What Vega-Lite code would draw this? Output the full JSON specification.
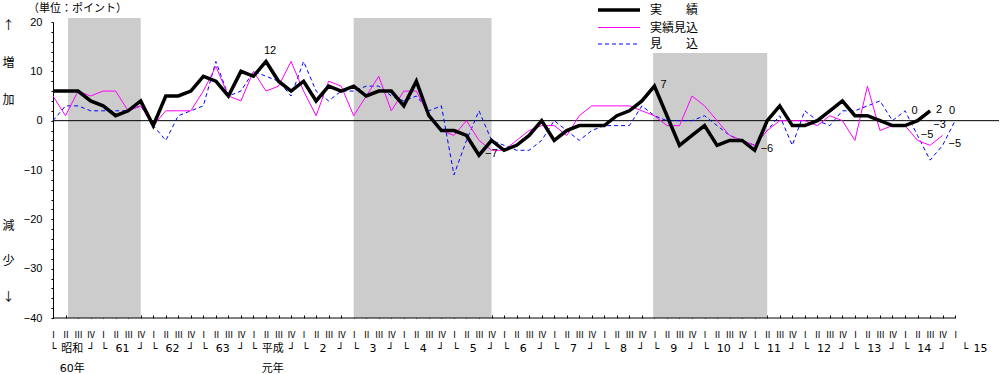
{
  "$schema": "https://vega.github.io/schema/vega-lite/v6.json",
  "width": 946,
  "height": 296,
  "autosize": {"type": "none"},
  "padding": {"left": 53, "top": 22, "right": 1, "bottom": 56},
  "background": "white",
  "config": {"view": {"stroke": null}, "font": "Noto Sans CJK JP"},
  "title": {"text": "（単位：ポイント）", "anchor": "start", "frame": "group", "fontSize": 11, "fontWeight": "normal", "font": "Noto Sans CJK JP", "color": "black", "dx": -25, "dy": 21, "offset": 11},
  "data": {"values": [
    {"q":0,"実績":6,"実績見込":5,"見込":0},
    {"q":1,"実績":6,"実績見込":1,"見込":3},
    {"q":2,"実績":6,"実績見込":6,"見込":3},
    {"q":3,"実績":4,"実績見込":5,"見込":2},
    {"q":4,"実績":3,"実績見込":6,"見込":2},
    {"q":5,"実績":1,"実績見込":6,"見込":2},
    {"q":6,"実績":2,"実績見込":2,"見込":2},
    {"q":7,"実績":4,"実績見込":3,"見込":3},
    {"q":8,"実績":-1,"実績見込":-1,"見込":-1},
    {"q":9,"実績":5,"実績見込":2,"見込":-4},
    {"q":10,"実績":5,"実績見込":2,"見込":1},
    {"q":11,"実績":6,"実績見込":2,"見込":2},
    {"q":12,"実績":9,"実績見込":6,"見込":3},
    {"q":13,"実績":8,"実績見込":11,"見込":12},
    {"q":14,"実績":5,"実績見込":5,"見込":5},
    {"q":15,"実績":10,"実績見込":4,"見込":6},
    {"q":16,"実績":9,"実績見込":10,"見込":10},
    {"q":17,"実績":12,"実績見込":6,"見込":9},
    {"q":18,"実績":8,"実績見込":7,"見込":8},
    {"q":19,"実績":6,"実績見込":12,"見込":5},
    {"q":20,"実績":8,"実績見込":6,"見込":12},
    {"q":21,"実績":4,"実績見込":1,"見込":6},
    {"q":22,"実績":7,"実績見込":8,"見込":4},
    {"q":23,"実績":6,"実績見込":7,"見込":6},
    {"q":24,"実績":7,"実績見込":1,"見込":6},
    {"q":25,"実績":5,"実績見込":5,"見込":7},
    {"q":26,"実績":6,"実績見込":9,"見込":7},
    {"q":27,"実績":6,"実績見込":2,"見込":5},
    {"q":28,"実績":3,"実績見込":6,"見込":4},
    {"q":29,"実績":8,"実績見込":6,"見込":5},
    {"q":30,"実績":1,"実績見込":1,"見込":2},
    {"q":31,"実績":-2,"実績見込":-2,"見込":3},
    {"q":32,"実績":-2,"実績見込":-3,"見込":-11},
    {"q":33,"実績":-3,"実績見込":0,"見込":-4},
    {"q":34,"実績":-7,"実績見込":-4,"見込":2},
    {"q":35,"実績":-4,"実績見込":-6,"見込":-4},
    {"q":36,"実績":-6,"実績見込":-6,"見込":-5},
    {"q":37,"実績":-5,"実績見込":-4,"見込":-6},
    {"q":38,"実績":-3,"実績見込":-2,"見込":-6},
    {"q":39,"実績":0,"実績見込":-1,"見込":-4},
    {"q":40,"実績":-4,"実績見込":-1,"見込":0},
    {"q":41,"実績":-2,"実績見込":-3,"見込":-2},
    {"q":42,"実績":-1,"実績見込":1,"見込":-4},
    {"q":43,"実績":-1,"実績見込":3,"見込":-2},
    {"q":44,"実績":-1,"実績見込":3,"見込":-1},
    {"q":45,"実績":1,"実績見込":3,"見込":-1},
    {"q":46,"実績":2,"実績見込":3,"見込":-1},
    {"q":47,"実績":4,"実績見込":2,"見込":3},
    {"q":48,"実績":7,"実績見込":1,"見込":1},
    {"q":49,"実績":1,"実績見込":-1,"見込":0},
    {"q":50,"実績":-5,"実績見込":-1,"見込":0},
    {"q":51,"実績":-3,"実績見込":5,"見込":0},
    {"q":52,"実績":-1,"実績見込":3,"見込":1},
    {"q":53,"実績":-5,"実績見込":0,"見込":-1},
    {"q":54,"実績":-4,"実績見込":-3,"見込":-3},
    {"q":55,"実績":-4,"実績見込":-4,"見込":-4},
    {"q":56,"実績":-6,"実績見込":-5,"見込":-5},
    {"q":57,"実績":0,"実績見込":-2,"見込":-2},
    {"q":58,"実績":3,"実績見込":0,"見込":1},
    {"q":59,"実績":-1,"実績見込":0,"見込":-5},
    {"q":60,"実績":-1,"実績見込":0,"見込":2},
    {"q":61,"実績":0,"実績見込":-1,"見込":0},
    {"q":62,"実績":2,"実績見込":1,"見込":-1},
    {"q":63,"実績":4,"実績見込":0,"見込":2},
    {"q":64,"実績":1,"実績見込":-4,"見込":2},
    {"q":65,"実績":1,"実績見込":7,"見込":3},
    {"q":66,"実績":0,"実績見込":-2,"見込":4},
    {"q":67,"実績":-1,"実績見込":-1,"見込":0},
    {"q":68,"実績":-1,"実績見込":-1,"見込":2},
    {"q":69,"実績":0,"実績見込":-4,"見込":-3},
    {"q":70,"実績":2,"実績見込":-5,"見込":-8},
    {"q":71,"実績見込":-3,"見込":-5},
    {"q":72,"見込":0}
  ]},
  "transform": [
    {"fold": ["実績", "実績見込", "見込"], "as": ["s", "v"]},
    {"filter": "isValid(datum.v)"}
  ],
  "resolve": {"axis": {"x": "independent", "y": "independent"}},
  "layer": [
    {
      "data": {"values": [{"a": 1.2, "b": 7, "t": 20.8}, {"a": 24, "b": 35, "t": 20.8}, {"a": 47.9, "b": 57, "t": 13.7}]},
      "mark": {"type": "rect", "fill": "#cccccc"},
      "encoding": {
        "x": {"field": "a", "type": "quantitative", "scale": {"domain": [0, 75.5], "nice": false, "zero": false},
              "axis": {"orient": "bottom", "values": [0,1,2,3,4,5,6,7,8,9,10,11,12,13,14,15,16,17,18,19,20,21,22,23,24,25,26,27,28,29,30,31,32,33,34,35,36,37,38,39,40,41,42,43,44,45,46,47,48,49,50,51,52,53,54,55,56,57,58,59,60,61,62,63,64,65,66,67,68,69,70,71,72],
                       "labels": false, "domain": false, "grid": false, "tickSize": -3, "tickColor": "black", "title": null}},
        "x2": {"field": "b"},
        "y": {"field": "t", "type": "quantitative", "scale": {"domain": [-40, 20], "nice": false, "zero": false},
              "axis": {"orient": "left", "values": [-40,-38,-36,-34,-32,-30,-28,-26,-24,-22,-20,-18,-16,-14,-12,-10,-8,-6,-4,-2,0,2,4,6,8,10,12,14,16,18,20],
                       "labelExpr": "datum.value % 10 === 0 ? datum.label : ''",
                       "tickSize": 2, "tickColor": "black", "domainColor": "black", "labelPadding": 9, "grid": false,
                       "labelFont": "Liberation Sans", "labelFontSize": 11, "labelColor": "black", "labelOverlap": false, "labelFlush": false,
                       "title": ["↑", "増", "加"],
                       "titleAngle": 0, "titleX": -45, "titleY": -2, "titleAlign": "center", "titleBaseline": "top",
                       "titleFont": "Noto Sans CJK JP", "titleFontSize": 12, "titleFontWeight": "normal", "titleLineHeight": 37, "titleColor": "black"}},
        "y2": {"datum": -40}
      }
    },
    {
      "data": {"values": [{}]},
      "mark": {"type": "rule", "color": "black", "strokeWidth": 1},
      "encoding": {"y": {"datum": 0, "type": "quantitative", "axis": null}}
    },
    {
      "data": {"values": [{}]},
      "mark": {"type": "rule", "color": "black", "strokeWidth": 1},
      "encoding": {
        "x": {"datum": 0, "type": "quantitative", "axis": null},
        "x2": {"datum": 72},
        "y": {"datum": -40, "type": "quantitative", "axis": null}
      }
    },
    {
      "transform": [{"filter": "datum.s === '見込'"}],
      "mark": {"type": "line", "strokeWidth": 1, "strokeDash": [4, 3]},
      "encoding": {
        "x": {"field": "q", "type": "quantitative",
              "axis": {"orient": "bottom", "values": [0,1,2,3,4,5,6,7,8,9,10,11,12,13,14,15,16,17,18,19,20,21,22,23,24,25,26,27,28,29,30,31,32,33,34,35,36,37,38,39,40,41,42,43,44,45,46,47,48,49,50,51,52,53,54,55,56,57,58,59,60,61,62,63,64,65,66,67,68,69,70,71,72],
                       "labelExpr": "['Ⅰ','Ⅱ','Ⅲ','Ⅳ'][datum.value % 4]", "ticks": false, "domain": false, "grid": false,
                       "labelPadding": 12, "labelFont": "Noto Sans CJK JP", "labelFontSize": 9, "labelColor": "black",
                       "labelOverlap": false, "labelFlush": false, "labelBound": false, "labelBaseline": "top", "title": null}},
        "y": {"field": "v", "type": "quantitative",
              "axis": {"orient": "left", "domain": false, "ticks": false, "labels": false, "grid": false,
                       "title": ["減", "少", "↓"],
                       "titleAngle": 0, "titleX": -45, "titleY": 198, "titleAlign": "center", "titleBaseline": "top",
                       "titleFont": "Noto Sans CJK JP", "titleFontSize": 12, "titleFontWeight": "normal", "titleLineHeight": 35.5, "titleColor": "black"}},
        "color": {"field": "s", "type": "nominal", "scale": {"domain": ["実績", "実績見込", "見込"], "range": ["#000000", "#ff00ff", "#0000ff"]}}
      }
    },
    {
      "transform": [{"filter": "datum.s === '実績見込'"}],
      "mark": {"type": "line", "strokeWidth": 1},
      "encoding": {
        "x": {"field": "q", "type": "quantitative",
              "axis": {"orient": "bottom", "values": [1.5,5.5,9.5,13.5,17.5,21.5,25.5,29.5,33.5,37.5,41.5,45.5,49.5,53.5,57.5,61.5,65.5,69.5,73.5],
                       "labelExpr": "[['└\u2005\u2009昭和\u2005\u2009┘','60年'],'└\u2002\u200561\u2002\u2005┘','└\u2002\u200562\u2002\u2005┘','└\u2002\u200563\u2002\u2005┘',['└\u2005\u2009平成\u2005\u2009┘','元年'],'└\u2002\u20022\u2002\u2002┘','└\u2002\u20023\u2002\u2002┘','└\u2002\u20024\u2002\u2002┘','└\u2002\u20025\u2002\u2002┘','└\u2002\u20026\u2002\u2002┘','└\u2002\u20027\u2002\u2002┘','└\u2002\u20028\u2002\u2002┘','└\u2002\u20029\u2002\u2002┘','└\u2002\u200510\u2002\u2005┘','└\u2002\u200511\u2002\u2005┘','└\u2002\u200512\u2002\u2005┘','└\u2002\u200513\u2002\u2005┘','└\u2002\u200514\u2002\u2005┘','└\u200215\u2002\u2002\u2002\u2005'][round((datum.value - 1.5) / 4)]",
                       "ticks": false, "domain": false, "grid": false,
                       "labelPadding": 24, "labelFont": "DejaVu Sans, Noto Sans CJK JP", "labelFontSize": 11, "labelColor": "black", "labelLineHeight": 20,
                       "labelOverlap": false, "labelFlush": false, "labelBound": false, "labelBaseline": "top", "labelLimit": 0, "title": null}},
        "y": {"field": "v", "type": "quantitative", "axis": null},
        "color": {"field": "s", "type": "nominal"}
      }
    },
    {
      "transform": [{"filter": "datum.s === '実績'"}],
      "mark": {"type": "line", "strokeWidth": 3.5},
      "encoding": {
        "x": {"field": "q", "type": "quantitative", "axis": null},
        "y": {"field": "v", "type": "quantitative", "axis": null},
        "color": {"field": "s", "type": "nominal",
                  "legend": {"orient": "none", "legendX": 560, "legendY": -18, "title": null, "symbolType": "stroke", "symbolSize": 1764,
                             "labelFont": "Noto Sans CJK JP", "labelFontSize": 12, "labelColor": "black", "labelOffset": 25, "rowPadding": 4.5, "labelLimit": 0,
                             "labelExpr": "datum.label === '実績' ? '実\u3000\u3000績' : datum.label === '見込' ? '見\u3000\u3000込' : datum.label",
                             "encode": {"symbols": {"update": {
                               "stroke": {"signal": "datum.value === '実績見込' ? '#ff00ff' : datum.value === '見込' ? '#0000ff' : '#000000'"},
                               "strokeOpacity": {"value": 1},
                               "opacity": {"value": 1},
                               "strokeWidth": {"signal": "datum.value === '実績' ? 3.5 : 1.2"},
                               "strokeDash": {"signal": "datum.value === '見込' ? [4, 3] : []"}}}}}}
      }
    },
    {
      "data": {"values": [{"q": 17, "v": 12}]},
      "mark": {"type": "text", "font": "Liberation Sans", "fontSize": 11, "color": "black", "dx": 4, "dy": -10, "baseline": "middle"},
      "encoding": {
        "x": {"field": "q", "type": "quantitative", "axis": null},
        "y": {"field": "v", "type": "quantitative", "axis": null},
        "text": {"field": "v", "type": "quantitative"}
      }
    },
    {
      "data": {"values": [{"q": 69, "v": 0}, {"q": 70, "v": -5}, {"q": 71, "v": -3}, {"q": 72, "v": 0}]},
      "mark": {"type": "text", "font": "Liberation Sans", "fontSize": 11, "color": "black", "dx": -3, "dy": -10, "baseline": "middle"},
      "encoding": {
        "x": {"field": "q", "type": "quantitative", "axis": null},
        "y": {"field": "v", "type": "quantitative", "axis": null},
        "text": {"field": "v", "type": "quantitative"}
      }
    },
    {
      "data": {"values": [{"q": 48, "v": 7}, {"q": 34, "v": -7}, {"q": 56, "v": -6}, {"q": 71, "v": -5}, {"q": 70, "v": 2}]},
      "mark": {"type": "text", "font": "Liberation Sans", "fontSize": 11, "color": "black", "dx": 6, "dy": -1, "align": "left", "baseline": "middle"},
      "encoding": {
        "x": {"field": "q", "type": "quantitative", "axis": null},
        "y": {"field": "v", "type": "quantitative", "axis": null},
        "text": {"field": "v", "type": "quantitative"}
      }
    }
  ]
}
